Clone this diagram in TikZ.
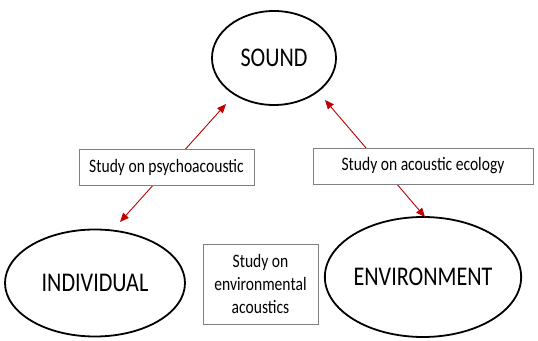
\documentclass[tikz,border=0pt]{standalone}
\usepackage{fontspec}
\setmainfont{Carlito}[FakeStretch=0.82]
\usetikzlibrary{shapes.geometric, arrows.meta, positioning}
\definecolor{arrowred}{RGB}{192,0,0}
\definecolor{boxgray}{RGB}{128,128,128}
\tikzstyle{field}=[draw=black,line width=1.8pt,ellipse,inner sep=0pt,font=\fontsize{27}{32}\selectfont]
\tikzstyle{study}=[draw=boxgray,line width=0.8pt,fill=white,rectangle,inner sep=0pt,font=\fontsize{19}{23}\selectfont,align=center]
\tikzstyle{link}=[arrowred,line width=0.9pt,{Triangle[length=9pt,width=7.5pt]}-{Triangle[length=9pt,width=7.5pt]}]

\begin{document}
\begin{tikzpicture}[x=1pt,y=-1pt]
    \useasboundingbox (0,0) rectangle (538,340);
    \node[field, minimum width=124pt, minimum height=94pt] (sound) at (274,58) {SOUND};
    \node[field, minimum width=180pt, minimum height=107pt] (indiv) at (95,283) {INDIVIDUAL};
    \node[field, minimum width=196pt, minimum height=120pt] (env) at (423,277) {ENVIRONMENT};
    \coordinate (psytop) at (226,104);
    \coordinate (psybot) at (120,222);
    \coordinate (ecotop) at (325,100);
    \coordinate (ecobot) at (425,217);
    \draw[link] (psytop) -- (psybot);
    \draw[link] (ecotop) -- (ecobot);
    \node[study, minimum width=175pt, minimum height=36pt] (psy) at (166.5,167) {Study on psychoacoustic};
    \node[study, minimum width=220pt, minimum height=36pt] (eco) at (423,166) {Study on acoustic ecology};
    \node[study, minimum width=115pt, minimum height=80pt] (envac) at (260.5,284) {Study on\\environmental\\acoustics};
\end{tikzpicture}
\end{document}
